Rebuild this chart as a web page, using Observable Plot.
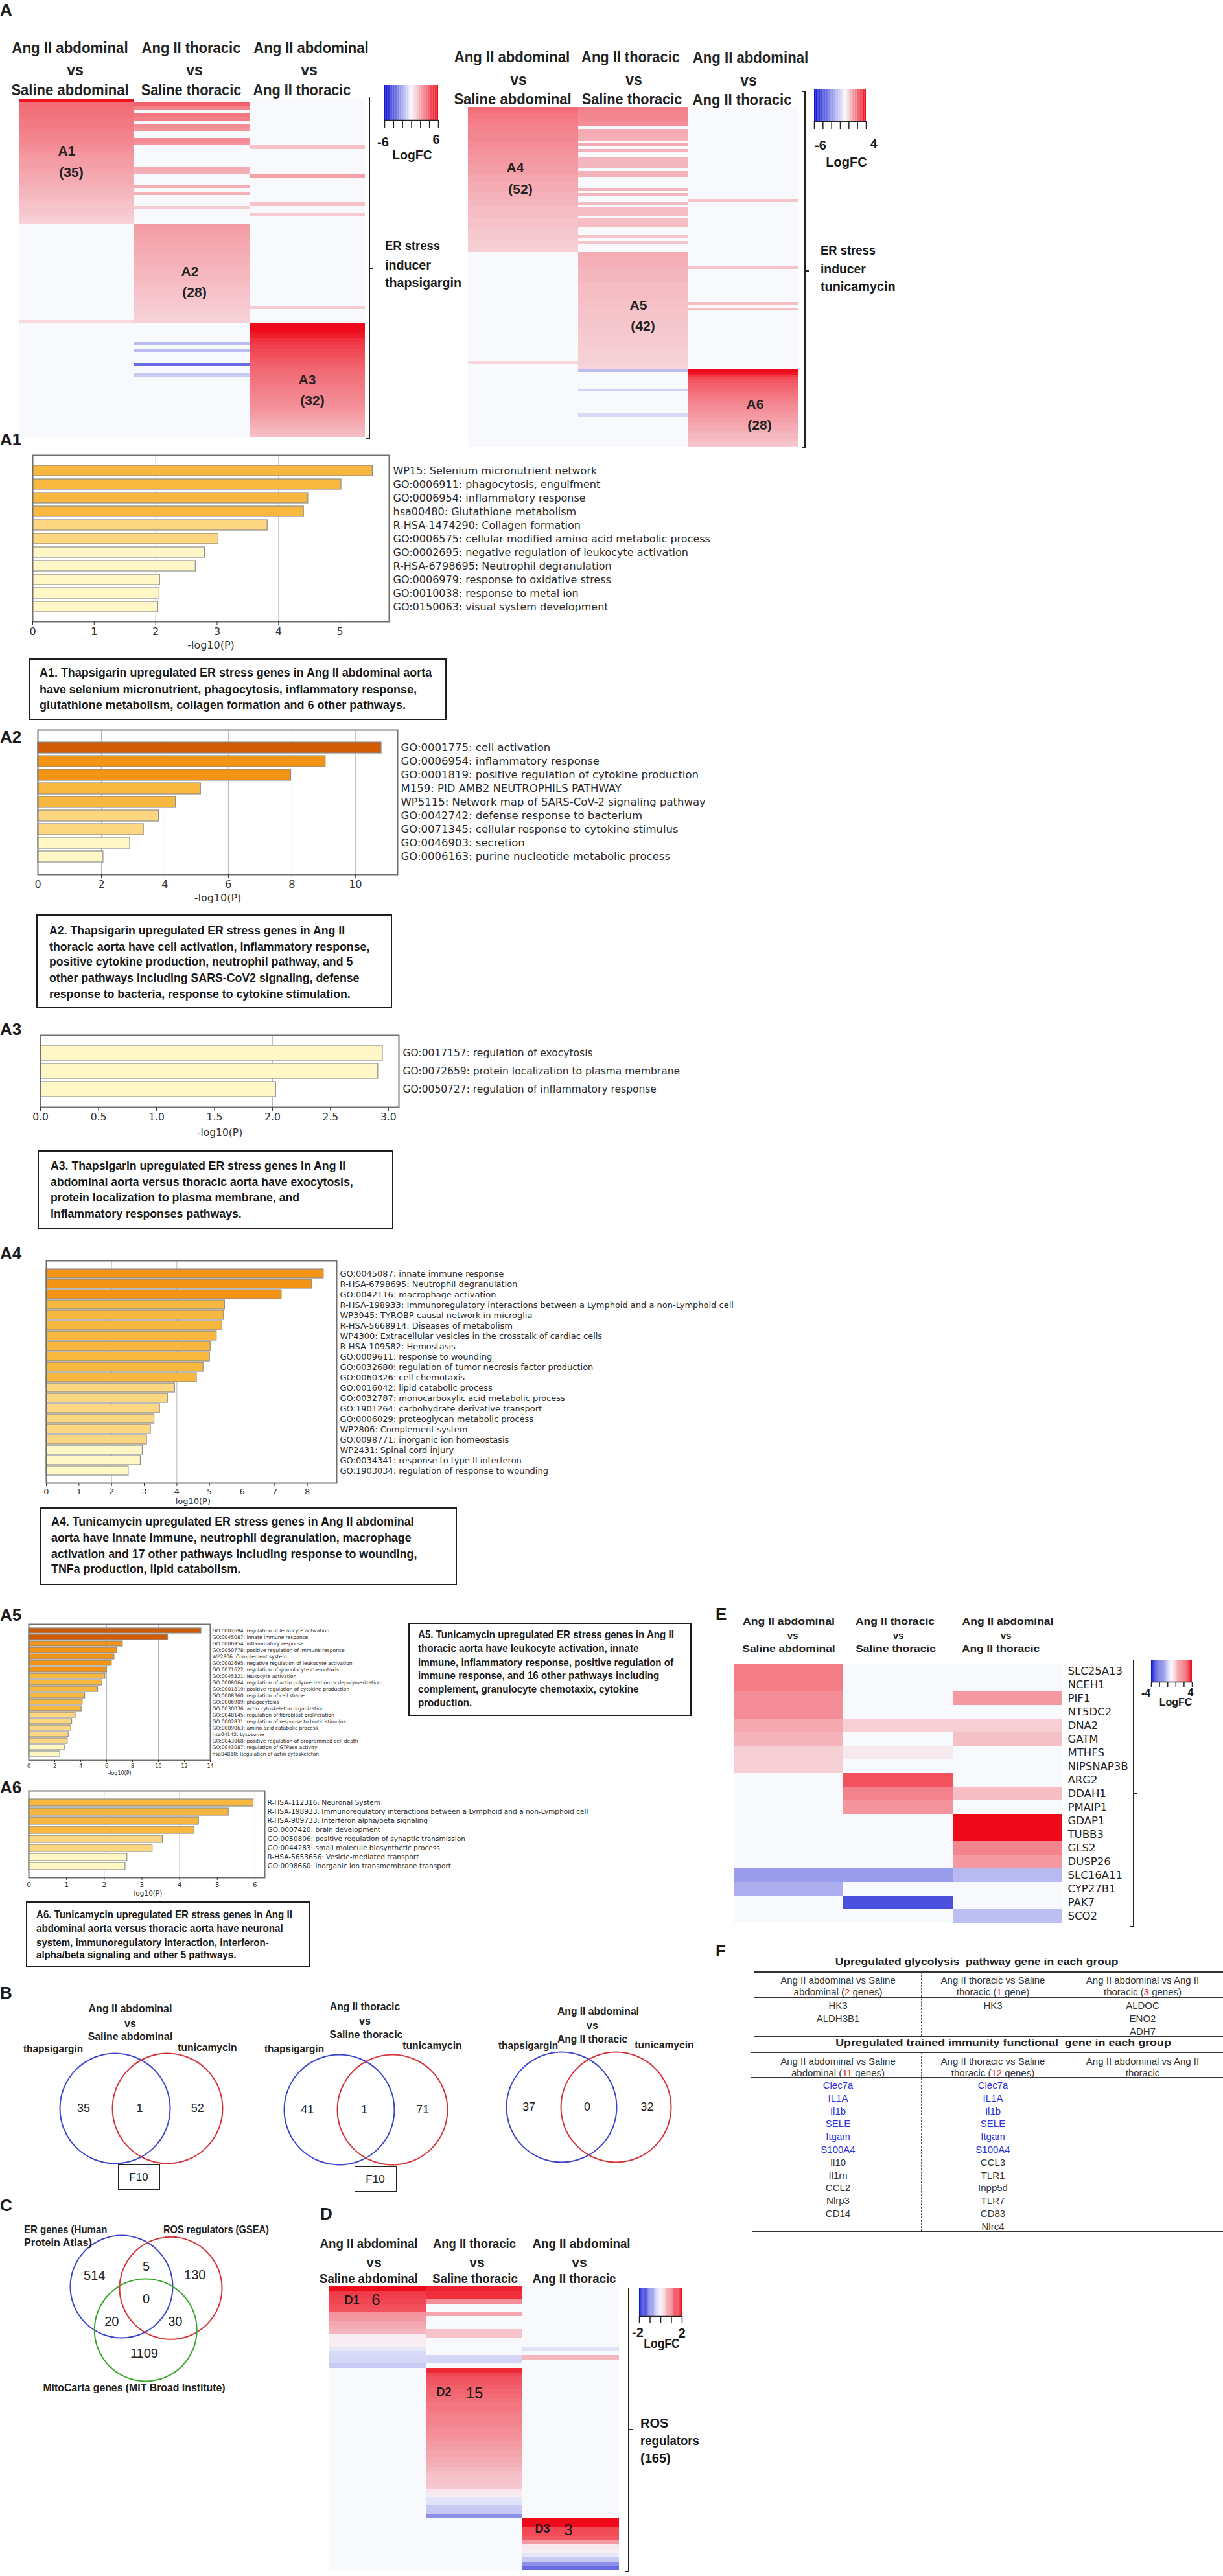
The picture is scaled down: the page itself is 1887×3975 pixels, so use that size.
<!DOCTYPE html>
<html><head><meta charset="utf-8">
<script src="https://cdn.jsdelivr.net/npm/d3@7"></script>
<script src="https://cdn.jsdelivr.net/npm/@observablehq/plot@0.6"></script>
<style>
body{margin:0;background:#fff;}
#page{position:relative;width:1887px;height:3975px;overflow:hidden;background:#fff;}
.t{position:absolute;white-space:nowrap;line-height:1;}
</style></head><body><div id="page"></div>
<script>
// ---------------- DATA ----------------
const heatCols = ["Ang II abdominal vs Saline abdominal", "Ang II thoracic vs Saline thoracic", "Ang II abdominal vs Ang II thoracic"];

// Panel A, thapsigargin heatmap (95 genes: A1 35, A2 28, A3 32)
const thapRows = 95;
const thapA1abd = [5.8, 3.6, 3.5, 3.4, 3.4, 3.3, 3.2, 3.2, 3.1, 3.0, 2.9, 2.9, 2.8, 2.7, 2.6, 2.5, 2.4, 2.3, 2.3, 2.2, 2.1, 2.0, 2.0, 1.9, 1.8, 1.7, 1.7, 1.6, 1.5, 1.4, 1.3, 1.3, 1.2, 1.1, 1.0];
const thapA2thor = [2.3, 2.25, 2.2, 2.2, 2.1, 2.05, 2.0, 2.0, 1.9, 1.85, 1.8, 1.8, 1.7, 1.65, 1.6, 1.6, 1.5, 1.45, 1.4, 1.4, 1.3, 1.25, 1.2, 1.2, 1.1, 1.05, 1.0, 1.0];
const thapA3vs = [6.0, 6.0, 5.8, 5.5, 5.0, 4.8, 4.6, 4.5, 4.3, 4.2, 4.0, 3.9, 3.7, 3.6, 3.5, 3.4, 3.3, 3.2, 3.1, 3.0, 2.9, 2.8, 2.7, 2.6, 2.5, 2.3, 2.2, 2.0, 1.9, 1.7, 1.6, 1.5];
const thapAbdOther = [[62, 0.8]];
const thapThorOther = [[1, 3.8], [2, 3.0], [4, 3.3], [5, 3.1], [7, 2.7], [8, 2.5], [11, 2.8], [12, 2.6], [19, 2.0], [20, 1.8], [24, 1.9], [26, 1.8], [30, 1.1], [68, -1.6], [70, -1.6], [74, -3.6], [77, -1.2]];
const thapVsOther = [[13, 1.4], [21, 2.2], [29, 1.4], [32, 1.2], [58, 1.1]];

// Panel A, tunicamycin heatmap (122 genes: A4 52, A5 42, A6 28)
const tuniRows = 122;
const tuniA4abd = [2.4, 2.3, 2.2, 2.2, 2.1, 2.1, 2.0, 2.0, 2.0, 1.9, 1.9, 1.9, 1.8, 1.8, 1.8, 1.7, 1.7, 1.7, 1.6, 1.6, 1.6, 1.5, 1.5, 1.5, 1.4, 1.4, 1.4, 1.3, 1.3, 1.3, 1.2, 1.2, 1.2, 1.1, 1.1, 1.1, 1.0, 1.0, 1.0, 1.0, 0.9, 0.9, 0.9, 0.9, 0.8, 0.8, 0.8, 0.8, 0.7, 0.7, 0.7, 0.7];
const tuniA5thor = [1.3, 1.3, 1.2, 1.2, 1.2, 1.2, 1.1, 1.1, 1.1, 1.1, 1.1, 1.0, 1.0, 1.0, 1.0, 1.0, 1.0, 0.95, 0.95, 0.95, 0.9, 0.9, 0.9, 0.9, 0.85, 0.85, 0.85, 0.8, 0.8, 0.8, 0.8, 0.75, 0.75, 0.75, 0.7, 0.7, 0.7, 0.7, 0.65, 0.65, 0.65, 0.6];
const tuniA6vs = [4.0, 3.8, 3.2, 2.9, 2.7, 2.6, 2.5, 2.4, 2.3, 2.2, 2.1, 2.0, 1.9, 1.8, 1.8, 1.7, 1.6, 1.5, 1.5, 1.4, 1.3, 1.3, 1.2, 1.1, 1.1, 1.0, 0.9, 0.8];
const tuniAbdOther = [[91, 0.6]];
const tuniThorOther = [[0, 2.0], [1, 2.0], [2, 1.9], [3, 1.9], [4, 1.9], [5, 1.8], [6, 1.8], [8, 1.3], [9, 1.3], [10, 1.3], [11, 1.2], [13, 1.3], [15, 1.2], [18, 1.1], [19, 1.1], [20, 1.1], [21, 1.1], [23, 1.2], [24, 1.2], [29, 1.1], [31, 1.1], [34, 1.0], [36, 1.0], [37, 1.0], [38, 1.0], [40, 1.0], [41, 1.0], [42, 1.0], [46, 0.9], [48, 0.9], [94, -1.6], [101, -1.0], [110, -0.8]];
const tuniVsOther = [[33, 0.9], [57, 0.9], [70, 1.0], [72, 1.0]];

// Bar charts (-log10(P))
const a1Terms = ["WP15: Selenium micronutrient network", "GO:0006911: phagocytosis, engulfment", "GO:0006954: inflammatory response", "hsa00480: Glutathione metabolism", "R-HSA-1474290: Collagen formation", "GO:0006575: cellular modified amino acid metabolic process", "GO:0002695: negative regulation of leukocyte activation", "R-HSA-6798695: Neutrophil degranulation", "GO:0006979: response to oxidative stress", "GO:0010038: response to metal ion", "GO:0150063: visual system development"];
const a1Values = [5.53, 5.02, 4.48, 4.41, 3.82, 3.02, 2.80, 2.65, 2.07, 2.06, 2.04];
const a1Class = [2, 2, 2, 2, 3, 3, 4, 4, 4, 4, 4];

const a2Terms = ["GO:0001775: cell activation", "GO:0006954: inflammatory response", "GO:0001819: positive regulation of cytokine production", "M159: PID AMB2 NEUTROPHILS PATHWAY", "WP5115: Network map of SARS-CoV-2 signaling pathway", "GO:0042742: defense response to bacterium", "GO:0071345: cellular response to cytokine stimulus", "GO:0046903: secretion", "GO:0006163: purine nucleotide metabolic process"];
const a2Values = [10.82, 9.06, 7.97, 5.13, 4.34, 3.81, 3.33, 2.90, 2.06];
const a2Class = [0, 1, 1, 2, 2, 3, 3, 4, 4];

const a3Terms = ["GO:0017157: regulation of exocytosis", "GO:0072659: protein localization to plasma membrane", "GO:0050727: regulation of inflammatory response"];
const a3Values = [2.95, 2.91, 2.03];
const a3Class = [4, 4, 4];

const a4Terms = ["GO:0045087: innate immune response", "R-HSA-6798695: Neutrophil degranulation", "GO:0042116: macrophage activation", "R-HSA-198933: Immunoregulatory interactions between a Lymphoid and a non-Lymphoid cell", "WP3945: TYROBP causal network in microglia", "R-HSA-5668914: Diseases of metabolism", "WP4300: Extracellular vesicles in the crosstalk of cardiac cells", "R-HSA-109582: Hemostasis", "GO:0009611: response to wounding", "GO:0032680: regulation of tumor necrosis factor production", "GO:0060326: cell chemotaxis", "GO:0016042: lipid catabolic process", "GO:0032787: monocarboxylic acid metabolic process", "GO:1901264: carbohydrate derivative transport", "GO:0006029: proteoglycan metabolic process", "WP2806: Complement system", "GO:0098771: inorganic ion homeostasis", "WP2431: Spinal cord injury", "GO:0034341: response to type II interferon", "GO:1903034: regulation of response to wounding"];
const a4Values = [8.50, 8.14, 7.21, 5.47, 5.44, 5.39, 5.22, 5.03, 5.01, 4.81, 4.61, 3.94, 3.72, 3.48, 3.31, 3.20, 3.08, 2.95, 2.89, 2.52];
const a4Class = [1, 1, 1, 2, 2, 2, 2, 2, 2, 2, 2, 3, 3, 3, 3, 3, 3, 4, 4, 4];

const a5Terms = ["GO:0002694: regulation of leukocyte activation", "GO:0045087: innate immune response", "GO:0006954: inflammatory response", "GO:0050778: positive regulation of immune response", "WP2806: Complement system", "GO:0002695: negative regulation of leukocyte activation", "GO:0071622: regulation of granulocyte chemotaxis", "GO:0045321: leukocyte activation", "GO:0008064: regulation of actin polymerization or depolymerization", "GO:0001819: positive regulation of cytokine production", "GO:0008360: regulation of cell shape", "GO:0006909: phagocytosis", "GO:0030036: actin cytoskeleton organization", "GO:0048145: regulation of fibroblast proliferation", "GO:0002831: regulation of response to biotic stimulus", "GO:0009063: amino acid catabolic process", "hsa04142: Lysosome", "GO:0043068: positive regulation of programmed cell death", "GO:0043087: regulation of GTPase activity", "hsa04810: Regulation of actin cytoskeleton"];
const a5Values = [13.3, 10.73, 7.24, 6.82, 6.59, 6.39, 6.02, 5.89, 5.67, 5.33, 4.33, 4.14, 4.06, 3.60, 3.33, 3.26, 3.06, 2.99, 2.76, 2.41];
const a5Class = [0, 0, 1, 1, 1, 1, 1, 2, 2, 2, 2, 2, 2, 3, 3, 3, 3, 3, 4, 4];

const a6Terms = ["R-HSA-112316: Neuronal System", "R-HSA-198933: Immunoregulatory interactions between a Lymphoid and a non-Lymphoid cell", "R-HSA-909733: Interferon alpha/beta signaling", "GO:0007420: brain development", "GO:0050806: positive regulation of synaptic transmission", "GO:0044283: small molecule biosynthetic process", "R-HSA-5653656: Vesicle-mediated transport", "GO:0098660: inorganic ion transmembrane transport"];
const a6Values = [5.96, 5.30, 4.51, 4.39, 3.55, 3.28, 2.61, 2.56];
const a6Class = [2, 2, 2, 2, 3, 3, 4, 4];

// Panel B Venn counts [thapsigargin only, both, tunicamycin only]
const vennBSets = ["thapsigargin", "tunicamycin"];
const vennBCounts = [[35, 1, 52], [41, 1, 71], [37, 0, 32]];

// Panel C Venn counts
const vennCSets = ["ER genes (Human Protein Atlas)", "ROS regulators (GSEA)", "MitoCarta genes (MIT Broad Institute)"];
const vennCCounts = [514, 5, 130, 0, 20, 30, 1109];

// Panel D ROS regulators heatmap (66 rows)
const rosRows = 66;
const rosAbd = [2.0, 1.6, 1.55, 1.5, 1.45, 1.4, 0.85, 0.8, 0.7, 0.65, 0.55, 0.1, 0.1, 0.1, -0.15, -0.25, -0.28, -0.3, -0.4];
const rosThorTop = [1.8, 1.7, 1.7, 0.9, 0, 0, 0.7, 0, 0, 0, 0.45, 0.45, 0, 0, 0, 0, -0.3, -0.3, 0];
const rosD2 = [1.75, 1.5, 1.4, 1.35, 1.3, 1.25, 1.2, 1.15, 1.1, 1.1, 1.05, 1.0, 1.0, 0.95, 0.9, 0.9, 0.85, 0.8, 0.75, 0.7, 0.7, 0.65, 0.6, 0.55, 0.5, 0.45, 0.45, 0.4];
const rosThorTail = [0.15, 0.12, -0.18, -0.2, -0.4, -0.42, -0.9];
const rosVsOther = [[14, -0.2], [16, 0.55]];
const rosD3 = [2.0, 2.0, 1.5, 1.45, 1.35, 0.8, 0.15, 0.1, -0.15, -0.4, -0.9, -1.2];

// Panel E
const eGenes = ["SLC25A13", "NCEH1", "PIF1", "NT5DC2", "DNA2", "GATM", "MTHFS", "NIPSNAP3B", "ARG2", "DDAH1", "PMAIP1", "GDAP1", "TUBB3", "GLS2", "DUSP26", "SLC16A11", "CYP27B1", "PAK7", "SCO2"];
const eAbd = [2.1, 2.1, 1.8, 1.8, 1.35, 1.15, 0.7, 0.7, 0, 0, 0, 0, 0, 0, 0, -1.6, -1.3, 0, 0];
const eThor = [0, 0, 0, 0, 0.7, 0, 0.25, 0, 2.8, 2.0, 1.7, 0, 0, 0, 0, -1.6, 0, -2.9, 0];
const eVs = [0, 0, 1.6, 0, 0.7, 0.95, 0, 0, 0, 1.0, 0, 4.0, 4.0, 1.95, 1.6, -1.1, 0, 0, -1.0];

// Panel F
const glycoAbd = ["HK3", "ALDH3B1"];
const glycoThor = ["HK3"];
const glycoVs = ["ALDOC", "ENO2", "ADH7"];
const trainedShared = ["Clec7a", "IL1A", "Il1b", "SELE", "Itgam", "S100A4"];
const trainedAbdOnly = ["Il10", "Il1rn", "CCL2", "Nlrp3", "CD14"];
const trainedThorOnly = ["CCL3", "TLR1", "Inpp5d", "TLR7", "CD83", "Nlrc4"];

// ---------------- STYLE ----------------
const BLUE = "#0a10cf", BG = "#f8f9fd", RED = "#ee0a1a";
const barColors = ["#d15b04", "#f39416", "#f8b840", "#fcd680", "#fff7c6"];
const SANS = '"Liberation Sans", Arial, sans-serif';
const NARROW = '"Liberation Sans Narrow", "Arial Narrow", "Liberation Sans", Arial, sans-serif';
const DEJA = '"DejaVu Sans", sans-serif';

const page = document.getElementById("page");
function put(node, left, top) {
  node.style.position = "absolute"; node.style.left = left + "px"; node.style.top = top + "px";
  page.appendChild(node); return node;
}
function txt(s, x, y, o = {}) {
  const d = document.createElement("div");
  d.className = "t";
  d.innerHTML = s;
  d.style.fontSize = (o.size || 16) + "px";
  d.style.fontWeight = o.weight || "normal";
  d.style.fontFamily = o.family || SANS;
  d.style.color = o.color || "#1a1a1a";
  d.style.left = x + "px"; d.style.top = y + "px";
  page.appendChild(d);
  let sx = o.sx || 1;
  if (o.w) sx = o.w / d.offsetWidth;
  const a = o.anchor || "start";
  const tx = a === "middle" ? -50 : a === "end" ? -100 : 0;
  d.style.transformOrigin = (a === "middle" ? "50%" : a === "end" ? "100%" : "0%") + " 50%";
  d.style.transform = `translate(${tx}%, -50%) scaleX(${sx})`;
  return d;
}
function box(x1, y1, x2, y2, border) {
  const b = document.createElement("div");
  Object.assign(b.style, {position: "absolute", left: x1 + "px", top: y1 + "px", width: (x2 - x1) + "px", height: (y2 - y1) + "px", border, boxSizing: "border-box", background: "#fff"});
  page.appendChild(b); return b;
}
function caption(b, lines, ys, tx, size, w0) {
  box(b[0], b[1], b[2], b[3], "2px solid #1e1e1e");
  const first = txt(lines[0], tx, ys[0], {size, weight: "bold", family: NARROW, w: w0});
  const sx = w0 / first.offsetWidth;
  lines.slice(1).forEach((l, i) => txt(l, tx, ys[i + 1], {size, weight: "bold", family: NARROW, sx}));
}
function bracket(x, y1, y2, ym) {
  const v = document.createElement("div");
  Object.assign(v.style, {position: "absolute", left: (x - 5) + "px", top: y1 + "px", width: "6px", height: (y2 - y1) + "px", borderTop: "1.5px solid #222", borderRight: "2px solid #222", borderBottom: "1.5px solid #222", boxSizing: "border-box"});
  page.appendChild(v);
  const m = document.createElement("div");
  Object.assign(m.style, {position: "absolute", left: (x + 1) + "px", top: (ym - 1) + "px", width: "5px", height: "2px", background: "#222"});
  page.appendChild(m);
}
function hline(x1, x2, y, t, c) {
  const d = document.createElement("div");
  Object.assign(d.style, {position: "absolute", left: x1 + "px", top: (y - t / 2) + "px", width: (x2 - x1) + "px", height: t + "px", background: c || "#333"});
  page.appendChild(d);
}
function vline(x, y1, y2, t, c) {
  const d = document.createElement("div");
  Object.assign(d.style, {position: "absolute", left: (x - t / 2) + "px", top: y1 + "px", width: "0px", height: (y2 - y1) + "px", borderLeft: `${t}px dashed ${c || "#555"}`});
  page.appendChild(d);
}
function heatColor(lo, hi) {
  return {type: "linear", domain: [lo, 0, hi], range: [BLUE, BG, RED], interpolate: "rgb"};
}
function column(n, blocks, stripes) {
  const a = new Array(n).fill(0);
  for (const [start, vals] of blocks) vals.forEach((v, i) => { a[start + i] = v; });
  for (const [r, v] of stripes) a[r] = v;
  return a;
}
function heatmap(o) {
  const rows = o.rowNames || d3.range(o.n);
  const data = [];
  o.cols.forEach((c, j) => o.values[j].forEach((v, i) => data.push({c, r: rows[i], v})));
  const mR = o.mR || 0;
  const chart = Plot.plot({
    width: (o.x2 - o.x1) + mR, height: o.y2 - o.y1,
    marginLeft: 0, marginTop: 0, marginBottom: 0, marginRight: mR,
    style: {fontFamily: DEJA, fontSize: (o.fs || 15) + "px", color: "#222", background: "none", overflow: "visible"},
    x: {domain: o.cols, padding: 0, axis: null},
    y: o.rowNames ? {domain: rows, padding: 0, axis: "right", tickSize: 0, tickPadding: 7, label: null} : {domain: rows, padding: 0, axis: null},
    color: heatColor(o.lo, o.hi),
    marks: [Plot.cell(data, {x: "c", y: "r", fill: "v", shapeRendering: "crispEdges"})]
  });
  put(chart, o.x1, o.y1);
}
function colorbar(o) {
  const W = o.x2 - o.x1, bh = o.y2 - o.y1, H = bh + o.tickLen + 2;
  const n = 60, st = (o.hi - o.lo) / n;
  const stops = d3.range(n).map(i => o.lo + i * st);
  const ticks = d3.range(o.nTicks).map(i => o.lo + i * (o.hi - o.lo) / (o.nTicks - 1));
  const chart = Plot.plot({
    width: W, height: H, marginLeft: 0, marginRight: 0, marginTop: 0, marginBottom: 0,
    style: {background: "none", overflow: "visible"},
    x: {domain: [o.lo, o.hi], range: [0, W], axis: null},
    y: {domain: [0, 1], range: [bh, 0], axis: null},
    color: heatColor(o.lo, o.hi),
    marks: [
      Plot.rect(stops, {x1: d => d, x2: d => Math.min(o.hi, d + st * 1.05), y1: 0, y2: 1, fill: d => d + st / 2}),
      Plot.ruleY([0], {stroke: "#222", strokeWidth: 1.5}),
      Plot.ruleX(ticks, {y1: 0, y2: -o.tickLen / bh, stroke: "#222", strokeWidth: 1.5})
    ]
  });
  put(chart, o.x1, o.y1);
}
function barChart(o) {
  const mL = 24, mT = 4, mR = 760, mB = 60;
  const W = (o.fx2 - o.fx1) + mL + mR, H = (o.fy2 - o.fy1) + mT + mB;
  const data = o.labels.map((l, i) => ({label: l, v: o.values[i], c: barColors[o.classes[i]]}));
  const chart = Plot.plot({
    width: W, height: H, marginLeft: mL, marginRight: mR, marginTop: mT, marginBottom: mB,
    style: {fontFamily: DEJA, fontSize: o.tfs + "px", color: "#333", background: "none", overflow: "visible"},
    x: {domain: [0, o.xmax], axis: null},
    y: {domain: o.labels, padding: o.pad, inset: o.inset, axis: null},
    color: {type: "identity"},
    marks: [
      Plot.ruleX(o.grid, {stroke: "#b8b8b8", strokeWidth: 1}),
      Plot.barX(data, {x: "v", y: "label", fill: "c", stroke: "#8d8d8d", strokeWidth: 1.2}),
      Plot.frame({stroke: "#707070", strokeWidth: 2}),
      Plot.axisX(o.ticks, {anchor: "bottom", tickSize: o.tickLen, tickPadding: 3, tickFormat: o.fmt, label: null}),
      Plot.text(data, {y: "label", text: "label", frameAnchor: "right", textAnchor: "start", dx: o.ldx, fontSize: o.fs, fill: "#2a2a2a"}),
      Plot.text(["-log10(P)"], {text: d => d, frameAnchor: "bottom", dy: o.xlabDy, fontSize: o.tfs, fill: "#333"})
    ]
  });
  put(chart, o.fx1 - mL, o.fy1 - mT);
}
function venn(o) {
  const chart = Plot.plot({
    width: o.W, height: o.H, marginLeft: 0, marginRight: 0, marginTop: 0, marginBottom: 0,
    style: {fontFamily: SANS, background: "none", overflow: "visible"},
    x: {domain: [0, 1], range: [o.ox - o.left, o.ox - o.left + o.ux], axis: null},
    y: {domain: [0, 1], range: [o.oy - o.top, o.oy - o.top + o.uy], axis: null},
    color: {type: "identity"},
    marks: [
      Plot.dot(o.sets, {x: "x", y: "y", r: o.r, stroke: "color", strokeWidth: 2, fill: "none"}),
      Plot.text(o.counts, {x: "x", y: "y", text: d => String(d.n), fontSize: o.fs, fill: "#222"})
    ]
  });
  put(chart, o.left, o.top);
}

// ---------------- PANEL A: heatmaps ----------------
heatmap({cols: heatCols, n: thapRows, x1: 29, y1: 153, x2: 563, y2: 675, lo: -6, hi: 6,
  values: [column(thapRows, [[0, thapA1abd]], thapAbdOther), column(thapRows, [[35, thapA2thor]], thapThorOther), column(thapRows, [[63, thapA3vs]], thapVsOther)]});
heatmap({cols: heatCols, n: tuniRows, x1: 721, y1: 165, x2: 1233, y2: 690, lo: -6, hi: 4,
  values: [column(tuniRows, [[0, tuniA4abd]], tuniAbdOther), column(tuniRows, [[52, tuniA5thor]], tuniThorOther), column(tuniRows, [[94, tuniA6vs]], tuniVsOther)]});

txt("A", 0, 15, {size: 26, weight: "bold"});
const HS = 23;
[["Ang II abdominal", 108, 74, 179], ["vs", 116, 108, 0], ["Saline abdominal", 108, 139, 181],
 ["Ang II thoracic", 295, 74, 153], ["vs", 300, 108, 0], ["Saline thoracic", 295, 139, 155],
 ["Ang II abdominal", 480, 74, 177], ["vs", 477, 108, 0], ["Ang II thoracic", 466, 139, 151],
 ["Ang II abdominal", 790, 88, 178], ["vs", 800, 123, 0], ["Saline abdominal", 791, 153, 181],
 ["Ang II thoracic", 973, 88, 152], ["vs", 978, 123, 0], ["Saline thoracic", 975, 153, 155],
 ["Ang II abdominal", 1158, 89, 178], ["vs", 1155, 124, 0], ["Ang II thoracic", 1145, 154, 153]
].forEach(([s, x, y, w]) => txt(s, x, y, {size: HS, weight: "bold", anchor: "middle", w: w || undefined, color: "#222"}));

[["A1", 103, 232], ["(35)", 110, 265], ["A2", 293, 418], ["(28)", 300, 450], ["A3", 474, 585], ["(32)", 482, 617],
 ["A4", 795, 258], ["(52)", 803, 291], ["A5", 985, 470], ["(42)", 992, 502], ["A6", 1165, 623], ["(28)", 1172, 655]
].forEach(([s, x, y]) => txt(s, x, y, {size: 21, weight: "bold", anchor: "middle", color: "#222"}));

colorbar({x1: 593, y1: 131, x2: 676, y2: 185, tickLen: 12, lo: -6, hi: 6, nTicks: 7});
txt("-6", 591, 219, {size: 20, weight: "bold", anchor: "middle"}); txt("6", 673, 215, {size: 20, weight: "bold", anchor: "middle"});
txt("LogFC", 636, 239, {size: 20, weight: "bold", anchor: "middle", w: 61});
colorbar({x1: 1256, y1: 138, x2: 1336, y2: 187, tickLen: 12, lo: -6, hi: 4, nTicks: 7});
txt("-6", 1266, 224, {size: 20, weight: "bold", anchor: "middle"}); txt("4", 1348, 222, {size: 20, weight: "bold", anchor: "middle"});
txt("LogFC", 1306, 250, {size: 20, weight: "bold", anchor: "middle", w: 63});

bracket(570, 149, 677, 414);
bracket(1242, 141, 691, 418);
txt("ER stress", 594, 378, {size: 21, weight: "bold", w: 85}); txt("inducer", 594, 408, {size: 21, weight: "bold", w: 71}); txt("thapsigargin", 594, 435, {size: 21, weight: "bold", w: 118});
txt("ER stress", 1266, 385, {size: 21, weight: "bold", w: 85}); txt("inducer", 1266, 414, {size: 21, weight: "bold", w: 70}); txt("tunicamycin", 1266, 441, {size: 21, weight: "bold", w: 116});

// ---------------- Bar charts ----------------
txt("A1", 0, 678, {size: 26, weight: "bold"});
barChart({labels: a1Terms, values: a1Values, classes: a1Class, fx1: 50, fy1: 702, fx2: 600, fy2: 959, xmax: 5.8,
  ticks: [0, 1, 2, 3, 4, 5], grid: [2, 4], pad: 0.25, inset: 9, fs: 16, tfs: 16, tickLen: 6, ldx: 6, xlabDy: 41});
caption([44, 1016, 689, 1111], ["A1. Thapsigarin upregulated ER stress genes in Ang II abdominal aorta", "have selenium micronutrient, phagocytosis, inflammatory response,", "glutathione metabolism, collagen formation and 6 other pathways."], [1037, 1063, 1087], 61, 19, 605);

txt("A2", 0, 1137, {size: 26, weight: "bold"});
barChart({labels: a2Terms, values: a2Values, classes: a2Class, fx1: 58, fy1: 1126, fx2: 613, fy2: 1349, xmax: 11.33,
  ticks: [0, 2, 4, 6, 8, 10], grid: [2, 4, 6, 8, 10], pad: 0.2, inset: 10.3, fs: 16.5, tfs: 16, tickLen: 6, ldx: 5, xlabDy: 41});
caption([56, 1411, 605, 1556], ["A2. Thapsigarin upregulated ER stress genes in Ang II", "thoracic aorta have cell activation, inflammatory response,", "positive cytokine production, neutrophil pathway, and 5", "other pathways including SARS-CoV2 signaling, defense", "response to bacteria, response to cytokine stimulation."], [1435, 1460, 1483, 1508, 1533], 76, 19, 456);

txt("A3", 0, 1588, {size: 26, weight: "bold"});
barChart({labels: a3Terms, values: a3Values, classes: a3Class, fx1: 62, fy1: 1597, fx2: 615, fy2: 1708, xmax: 3.09,
  ticks: [0, 0.5, 1, 1.5, 2, 2.5, 3], fmt: d3.format(".1f"), grid: [2], pad: 0.175, inset: 10.3, fs: 15.5, tfs: 15.5, tickLen: 6, ldx: 6, xlabDy: 44});
caption([58, 1775, 607, 1897], ["A3. Thapsigarin upregulated ER stress genes in Ang II", "abdominal aorta versus thoracic aorta have exocytosis,", "protein localization to plasma membrane, and", "inflammatory responses pathways."], [1798, 1823, 1847, 1872], 78, 19, 455);

txt("A4", 0, 1934, {size: 26, weight: "bold"});
barChart({labels: a4Terms, values: a4Values, classes: a4Class, fx1: 71, fy1: 1945, fx2: 519, fy2: 2288, xmax: 8.9,
  ticks: [0, 1, 2, 3, 4, 5, 6, 7, 8], grid: [2, 4, 6], pad: 0.15, inset: 8.3, fs: 13, tfs: 13, tickLen: 5, ldx: 5, xlabDy: 32});
caption([62, 2326, 705, 2446], ["A4. Tunicamycin upregulated ER stress genes in Ang II abdominal", "aorta have innate immune, neutrophil degranulation, macrophage", "activation and 17 other pathways including response to wounding,", "TNFa production, lipid catabolism."], [2347, 2372, 2397, 2420], 79, 19, 560);

txt("A5", 0, 2492, {size: 26, weight: "bold"});
barChart({labels: a5Terms, values: a5Values, classes: a5Class, fx1: 44, fy1: 2506, fx2: 324, fy2: 2716, xmax: 14,
  ticks: [0, 2, 4, 6, 8, 10, 12, 14], grid: [6, 10], pad: 0.2, inset: 3, fs: 7.6, tfs: 8, tickLen: 3, ldx: 3, xlabDy: 22});
caption([630, 2504, 1067, 2648], ["A5. Tunicamycin upregulated ER stress genes in Ang II", "thoracic aorta have leukocyte activation, innate", "immune, inflammatory response, positive regulation of", "immune response, and 16 other pathways including", "complement, granulocyte chemotaxix, cytokine", "production."], [2522, 2543, 2565, 2585, 2606, 2627], 645, 16.5, 395);

txt("A6", 0, 2758, {size: 26, weight: "bold"});
barChart({labels: a6Terms, values: a6Values, classes: a6Class, fx1: 44, fy1: 2763, fx2: 408, fy2: 2897, xmax: 6.26,
  ticks: [0, 1, 2, 3, 4, 5, 6], grid: [2, 4, 6], pad: 0.25, inset: 6.4, fs: 10.6, tfs: 10.5, tickLen: 4, ldx: 4, xlabDy: 27});
caption([40, 2934, 478, 3035], ["A6. Tunicamycin upregulated ER stress genes in Ang II", "abdominal aorta versus thoracic aorta have neuronal", "system, immunoregulatory interaction, interferon-", "alpha/beta signaling and other 5 pathways."], [2954, 2975, 2997, 3016], 56, 16.5, 395);

// ---------------- PANEL B ----------------
txt("B", 0, 3075, {size: 26, weight: "bold"});
const vennBLayout = [
  {ox: 177, oy: 3253, ux: 81, titles: [["Ang II abdominal", 201, 3100, 129], ["vs", 201, 3123, 0], ["Saline abdominal", 201, 3143, 131]], setLab: [[82, 3162], [320, 3160]]},
  {ox: 523, oy: 3255, ux: 82, titles: [["Ang II thoracic", 563, 3097, 108], ["vs", 563, 3119, 0], ["Saline thoracic", 565, 3140, 113]], setLab: [[454, 3162], [667, 3157]]},
  {ox: 866, oy: 3251, ux: 84, titles: [["Ang II abdominal", 923, 3104, 126], ["vs", 914, 3126, 0], ["Ang II thoracic", 914, 3147, 108]], setLab: [[815, 3157], [1025, 3156]]}
];
const vennBRegionX = [-0.6, 0.47, 1.57];
vennBLayout.forEach((L, k) => {
  venn({left: L.ox - 130, top: L.oy - 110, W: 340, H: 220, ox: L.ox, oy: L.oy, ux: L.ux, uy: 50, r: 85, fs: 18,
    sets: [{x: 0, y: 0, color: "#3c44cc", name: vennBSets[0]}, {x: 1, y: 0, color: "#d3343a", name: vennBSets[1]}],
    counts: vennBCounts[k].map((n, i) => ({x: vennBRegionX[i], y: 0, n}))});
  L.titles.forEach(([s, x, y, w]) => txt(s, x, y, {size: 16, weight: "bold", anchor: "middle", w: w || undefined, color: "#222"}));
  txt(vennBSets[0], L.setLab[0][0], L.setLab[0][1], {size: 16, weight: "bold", anchor: "middle", w: 92, color: "#222"});
  txt(vennBSets[1], L.setLab[1][0], L.setLab[1][1], {size: 16, weight: "bold", anchor: "middle", w: 91, color: "#222"});
});
box(182, 3340, 247, 3379, "1.5px solid #222"); txt("F10", 214, 3359, {size: 17, anchor: "middle"});
box(547, 3343, 612, 3382, "1.5px solid #222"); txt("F10", 579, 3362, {size: 17, anchor: "middle"});

// ---------------- PANEL C ----------------
txt("C", 0, 3403, {size: 26, weight: "bold"});
const vennCCenters = [[0, 0], [1, 0.03], [0.49, 0.88]];
const vennCColors = ["#3c44cc", "#d3343a", "#3aa52a"];
const vennCPos = [[-0.55, -0.22], [0.5, -0.41], [1.49, -0.24], [0.5, 0.25], [-0.2, 0.71], [1.09, 0.71], [0.46, 1.36]];
venn({left: 60, top: 3420, W: 340, H: 280, ox: 187, oy: 3528, ux: 76, uy: 76, r: 79, fs: 20,
  sets: vennCSets.map((s, i) => ({x: vennCCenters[i][0], y: vennCCenters[i][1], color: vennCColors[i], name: s})),
  counts: vennCCounts.map((n, i) => ({x: vennCPos[i][0], y: vennCPos[i][1], n}))});
txt("ER genes (Human", 37, 3440, {size: 17, weight: "bold", w: 128, color: "#222"});
txt("Protein Atlas)", 37, 3460, {size: 17, weight: "bold", w: 105, color: "#222"});
txt("ROS regulators (GSEA)", 252, 3440, {size: 17, weight: "bold", w: 163, color: "#222"});
txt("MitoCarta genes (MIT Broad Institute)", 207, 3684, {size: 17, weight: "bold", anchor: "middle", w: 281, color: "#222"});

// ---------------- PANEL D ----------------
txt("D", 494, 3416, {size: 26, weight: "bold"});
heatmap({cols: heatCols, n: rosRows, x1: 507, y1: 3528, x2: 955, y2: 3966, lo: -2, hi: 2,
  values: [column(rosRows, [[0, rosAbd]], []), column(rosRows, [[0, rosThorTop], [19, rosD2], [47, rosThorTail]], []), column(rosRows, [[54, rosD3]], rosVsOther)]});
[["Ang II abdominal", 569, 3461, 151], ["vs", 577, 3490, 0], ["Saline abdominal", 569, 3515, 152],
 ["Ang II thoracic", 732, 3461, 128], ["vs", 736, 3490, 0], ["Saline thoracic", 733, 3515, 131],
 ["Ang II abdominal", 897, 3461, 151], ["vs", 894, 3490, 0], ["Ang II thoracic", 886, 3515, 129]
].forEach(([s, x, y, w]) => txt(s, x, y, {size: 21, weight: "bold", anchor: "middle", w: w || undefined, color: "#222"}));
txt("D1", 543, 3549, {size: 18, weight: "bold", anchor: "middle"}); txt("6", 580, 3549, {size: 24, anchor: "middle"});
txt("D2", 685, 3691, {size: 18, weight: "bold", anchor: "middle"}); txt("15", 732, 3693, {size: 24, anchor: "middle"});
txt("D3", 837, 3902, {size: 18, weight: "bold", anchor: "middle"}); txt("3", 877, 3904, {size: 24, anchor: "middle"});
colorbar({x1: 986, y1: 3530, x2: 1052, y2: 3574, tickLen: 10, lo: -2, hi: 2, nTicks: 5});
txt("-2", 984, 3599, {size: 20, weight: "bold", anchor: "middle"}); txt("2", 1052, 3600, {size: 20, weight: "bold", anchor: "middle"});
txt("LogFC", 1021, 3616, {size: 20, weight: "bold", anchor: "middle", w: 55});
bracket(970, 3530, 3969, 3749);
txt("ROS", 988, 3739, {size: 20, weight: "bold"}); txt("regulators", 988, 3766, {size: 20, weight: "bold", w: 91}); txt("(165)", 988, 3793, {size: 20, weight: "bold"});

// ---------------- PANEL E ----------------
txt("E", 1104, 2491, {size: 26, weight: "bold"});
heatmap({cols: heatCols, rowNames: eGenes, x1: 1131, y1: 2561, x2: 1640, y2: 2973, lo: -4, hi: 4, mR: 110, fs: 16.5,
  values: [eAbd, eThor, eVs]});
[["Ang II abdominal", 1217, 2501, 142], ["vs", 1223, 2523, 0], ["Saline abdominal", 1217, 2543, 143],
 ["Ang II thoracic", 1381, 2501, 122], ["vs", 1386, 2523, 0], ["Saline thoracic", 1382, 2543, 124],
 ["Ang II abdominal", 1555, 2501, 141], ["vs", 1552, 2523, 0], ["Ang II thoracic", 1544, 2543, 120]
].forEach(([s, x, y, w]) => txt(s, x, y, {size: 15, weight: "bold", anchor: "middle", w: w || undefined, color: "#222"}));
colorbar({x1: 1776, y1: 2562, x2: 1839, y2: 2595, tickLen: 8, lo: -4, hi: 4, nTicks: 6});
txt("-4", 1768, 2613, {size: 16, weight: "bold", anchor: "middle"}); txt("4", 1837, 2612, {size: 16, weight: "bold", anchor: "middle"});
txt("LogFC", 1814, 2627, {size: 16, weight: "bold", anchor: "middle"});
bracket(1749, 2561, 2973, 2767);

// ---------------- PANEL F ----------------
txt("F", 1104, 3010, {size: 26, weight: "bold"});
const FC = [1293, 1532, 1763];
const FS = 15, GREY = "#333", GENEBLUE = "#2f2fdc";
txt("Upregulated glycolysis&nbsp; pathway gene in each group", 1507, 3027, {size: 15.5, weight: "bold", anchor: "middle", w: 437, color: "#222"});
hline(1164, 1887, 3043, 2, "#333");
const hdr1 = [["Ang II abdominal vs Saline", 'abdominal (<span style="color:#e02020">2</span> genes)'], ["Ang II thoracic vs Saline", 'thoracic (<span style="color:#e02020">1</span> gene)'], ["Ang II abdominal vs Ang II", 'thoracic (<span style="color:#e02020">3</span> genes)']];
hdr1.forEach((h, i) => { txt(h[0], FC[i], 3055, {size: FS, anchor: "middle", color: GREY}); txt(h[1], FC[i], 3073, {size: FS, anchor: "middle", color: GREY}); });
hline(1164, 1887, 3082, 1.5, "#333");
[glycoAbd, glycoThor, glycoVs].forEach((g, i) => g.forEach((s, j) => txt(s, FC[i], 3094 + j * 20, {size: FS, anchor: "middle", color: GREY})));
vline(1422, 3043, 3142, 1.5); vline(1642, 3043, 3142, 1.5);
hline(1164, 1887, 3142, 2.5, "#333");
txt("Upregulated trained immunity functional&nbsp; gene in each group", 1548, 3152, {size: 15.5, weight: "bold", anchor: "middle", w: 518, color: "#222"});
hline(1158, 1887, 3167, 2, "#333");
const hdr2 = [["Ang II abdominal vs Saline", 'abdominal (<span style="color:#e02020">11</span> genes)'], ["Ang II thoracic vs Saline", 'thoracic (<span style="color:#e02020">12</span> genes)'], ["Ang II abdominal vs Ang II", "thoracic"]];
hdr2.forEach((h, i) => { txt(h[0], FC[i], 3180, {size: FS, anchor: "middle", color: GREY}); txt(h[1], FC[i], 3198, {size: FS, anchor: "middle", color: GREY}); });
hline(1158, 1887, 3206, 2, "#333");
trainedShared.forEach((s, j) => { txt(s, FC[0], 3217 + j * 19.8, {size: FS, anchor: "middle", color: GENEBLUE}); txt(s, FC[1], 3217 + j * 19.8, {size: FS, anchor: "middle", color: GENEBLUE}); });
trainedAbdOnly.forEach((s, j) => txt(s, FC[0], 3217 + (j + 6) * 19.8, {size: FS, anchor: "middle", color: GREY}));
trainedThorOnly.forEach((s, j) => txt(s, FC[1], 3217 + (j + 6) * 19.8, {size: FS, anchor: "middle", color: GREY}));
vline(1422, 3167, 3443, 1.5); vline(1642, 3167, 3443, 1.5);
hline(1160, 1887, 3443, 1.5, "#333");
</script></body></html>
